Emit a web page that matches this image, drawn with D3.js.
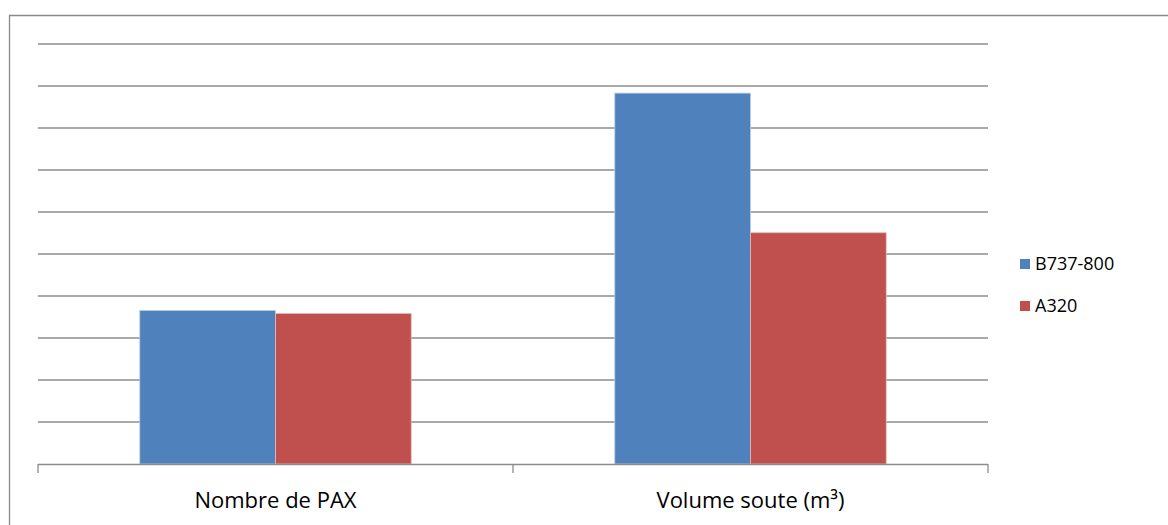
<!DOCTYPE html>
<html>
<head>
<meta charset="utf-8">
<script src="https://cdn.jsdelivr.net/npm/d3@7"></script>
<style>
  body { margin: 0; background: #fff; }
  svg text { font-family: "Open Sans", "Liberation Sans", sans-serif; fill: #000; }
</style>
</head>
<body>
<svg id="chart" width="1168" height="525"></svg>
<script>
// values (no axis labels in the original, units are grid steps)
const categories = ["Nombre de PAX", "Volume soute (m³)"];
const seriesNames = ["B737-800", "A320"];
const b737 = [36.5, 88.2];
const a320 = [35.8, 55.0];
const yTicks = [0, 10, 20, 30, 40, 50, 60, 70, 80, 90, 100];
const colors = ["#4F81BD", "#C0504D"];

const width = 1168, height = 525;
const margin = { top: 43.5, right: 180, bottom: 61, left: 38 };
const innerWidth  = width  - margin.left - margin.right;
const innerHeight = height - margin.top  - margin.bottom;

const svg = d3.select("#chart");

// outer frame (runs past the right and bottom edges, as in the original)
svg.append("path")
  .attr("d", `M9.5,${height} V15.5 H${width}`)
  .attr("fill", "none").attr("stroke", "#8a8a8a").attr("stroke-width", 1.3);

const inner = svg.append("g")
  .attr("transform", `translate(${margin.left}, ${margin.top})`);

const x0 = d3.scaleBand().domain(categories).range([0, innerWidth]);
const x1 = d3.scaleBand().domain(seriesNames)
  .range([x0.bandwidth() * 0.2143, x0.bandwidth() * 0.7857]);
const yScale = d3.scaleLinear().domain([0, 100]).range([innerHeight, 0]);

// gridlines
inner.append("g").selectAll("line")
  .data(yTicks.slice(1)).join("line")
  .attr("x1", 0).attr("x2", innerWidth)
  .attr("y1", d => Math.round(yScale(d)) + 0.5).attr("y2", d => Math.round(yScale(d)) + 0.5)
  .attr("stroke", "#8c8c8c").attr("stroke-width", 1.5);

// bars
const rows = categories.map((c, i) => ({ cat: c, vals: [b737[i], a320[i]] }));
inner.selectAll("g.cat")
  .data(rows).join("g")
  .attr("class", "cat")
  .attr("transform", d => `translate(${x0(d.cat)}, 0)`)
  .selectAll("rect")
  .data(d => d.vals.map((v, j) => ({ name: seriesNames[j], v, j })))
  .join("rect")
  .attr("x", d => x1(d.name))
  .attr("width", x1.bandwidth())
  .attr("y", d => yScale(d.v))
  .attr("height", d => innerHeight - yScale(d.v))
  .attr("fill", d => colors[d.j])
  .attr("stroke", d => d.j === 0 ? "#b9cde5" : "#e6b9b8")
  .attr("stroke-width", 0.8);

// bottom axis
const xAxis = inner.append("g")
  .attr("transform", `translate(0, ${innerHeight})`);
xAxis.append("line")
  .attr("x1", 0).attr("x2", innerWidth).attr("y1", 0.5).attr("y2", 0.5)
  .attr("stroke", "#8c8c8c").attr("stroke-width", 1.5);
xAxis.selectAll("line.tick")
  .data([0, ...categories.map(c => x0(c) + x0.bandwidth())]).join("line")
  .attr("class", "tick")
  .attr("x1", d => d).attr("x2", d => d)
  .attr("y1", 0).attr("y2", 9)
  .attr("stroke", "#8c8c8c").attr("stroke-width", 1.3);
xAxis.selectAll("text")
  .data(categories).join("text")
  .attr("x", d => x0(d) + x0.bandwidth() / 2)
  .attr("y", 44)
  .attr("text-anchor", "middle")
  .attr("font-size", 22)
  .text(d => d);

// legend
const legend = svg.append("g").attr("transform", "translate(1020, 259)");
const items = legend.selectAll("g")
  .data(seriesNames).join("g")
  .attr("transform", (d, i) => `translate(0, ${i * 42})`);
items.append("rect")
  .attr("width", 10).attr("height", 10)
  .attr("fill", (d, i) => colors[i]);
items.append("text")
  .attr("x", 15).attr("y", 5)
  .attr("dy", "0.35em")
  .attr("font-size", 18)
  .text(d => d);
</script>
</body>
</html>
